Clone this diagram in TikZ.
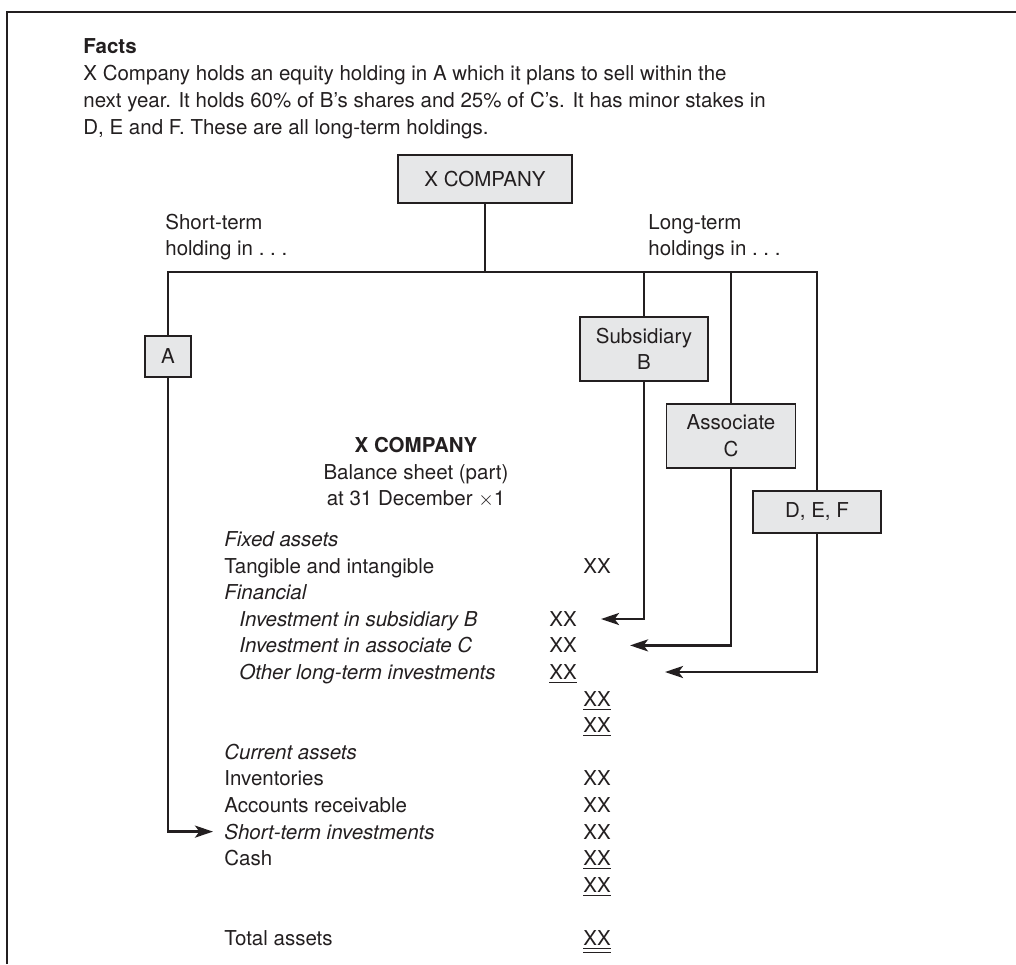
\documentclass[tikz,border=0pt]{standalone}
\usepackage{fontspec}
\setmainfont{TeX Gyre Heros}
\usetikzlibrary{arrows.meta}
\definecolor{linecol}{HTML}{231F20}
\definecolor{boxgray}{HTML}{E6E7E8}
\newcommand{\bodyfont}{\fontsize{10.25}{13.3}\selectfont}
\tikzset{
  box/.style={draw=linecol, fill=boxgray, line width=0.7pt, align=center, inner sep=0pt},
  link/.style={draw=linecol, line width=1.25pt},
  arr/.style={link, -{Stealth[length=9pt, width=6pt, inset=2.2pt]}},
  txt/.style={anchor=base west, inner sep=0pt},
  ctxt/.style={anchor=base, inner sep=0pt},
}
\begin{document}
\begin{tikzpicture}[x=0.5pt, y=-0.5pt, every node/.style={font=\bodyfont, text=linecol}]
\useasboundingbox (0,0) rectangle (1016,964);
\draw[link, line width=1.3pt] (7,964) -- (7,12) -- (1016,12);

\node[txt, font=\bodyfont\bfseries] (facts) at (83,53.5) {Facts};
\node[txt] (fact1) at (83,80.5) {X Company holds an equity holding in A which it plans to sell within the};
\node[txt] (fact2) at (83,107.5) {next year. It holds 60\% of B's shares and 25\% of C's. It has minor stakes in};
\node[txt] (fact3) at (83,134.5) {D, E and F. These are all long-term holdings.};

\node[box, minimum width=87pt, minimum height=24pt] (top) at (485,179) {X COMPANY};
\node[box, minimum width=23pt, minimum height=20.5pt] (A) at (168,356.5) {A};
\node[box, minimum width=64pt, minimum height=32pt] (B) at (644,349) {Subsidiary\\B};
\node[box, minimum width=64.5pt, minimum height=32pt] (C) at (731,436) {Associate\\C};
\node[box, minimum width=64pt, minimum height=21pt] (DEF) at (817,512) {D, E, F};

\node[txt] (short1) at (165,229.5) {Short-term};
\node[txt] (short2) at (165,255.5) {holding in .~.~.};
\node[txt] (long1) at (648,229.5) {Long-term};
\node[txt] (long2) at (648,255.5) {holdings in .~.~.};

\coordinate (busL) at (168,272);
\draw[link] (top.south) -- (top.south |- busL);
\draw[link] (A.north) -- (A.north |- busL) -- (DEF.north |- busL) -- (DEF.north);
\draw[link] (B.north) -- (B.north |- busL);
\draw[link] (C.north) -- (C.north |- busL);

\node[ctxt, font=\bodyfont\bfseries] (bshead) at (416,452.5) {X COMPANY};
\node[ctxt] (bstitle) at (416,479) {Balance sheet (part)};
\node[ctxt] (bsdate) at (416,505.5) {at 31 December $\times$1};

\node[txt] (fixed) at (224,546.5) {\itshape Fixed assets};
\node[txt] (tang) at (224,573.1) {Tangible and intangible};
\node[txt] (tangxx) at (583,573.1) {XX};
\node[txt] (fin) at (224,599.7) {\itshape Financial};
\node[txt] (invb) at (239,626.3) {\itshape Investment in subsidiary B};
\node[txt] (invbxx) at (549,626.3) {XX};
\node[txt] (invc) at (239,652.9) {\itshape Investment in associate C};
\node[txt] (invcxx) at (549,652.9) {XX};
\node[txt] (other) at (239,679.5) {\itshape Other long-term investments};
\node[txt] (otherxx) at (549,679.5) {\underline{XX}};
\node[txt] (finxx) at (583,706.1) {\underline{XX}};
\node[txt] (fixxx) at (583,732.7) {\underline{XX}};
\node[txt] (curr) at (224,759.3) {\itshape Current assets};
\node[txt] (inv) at (224,785.9) {Inventories};
\node[txt] (invxx) at (583,785.9) {XX};
\node[txt] (ar) at (224,812.5) {Accounts receivable};
\node[txt] (arxx) at (583,812.5) {XX};
\node[txt] (stinv) at (224,839.1) {\itshape Short-term investments};
\node[txt] (stinvxx) at (583,839.1) {XX};
\node[txt] (cash) at (224,865.7) {Cash};
\node[txt] (cashxx) at (583,865.7) {\underline{XX}};
\node[txt] (currxx) at (583,892.3) {\underline{XX}};
\node[txt] (total) at (224,945.5) {Total assets};
\node[txt] (totalxx) at (583,945.5) {\underline{\underline{XX}}};

\coordinate (tipA) at (213,831.6);
\coordinate (tipB) at (601,619);
\coordinate (tipC) at (630,645.4);
\coordinate (tipD) at (665,672);
\draw[arr] (A.south) |- (tipA);
\draw[arr] (B.south) |- (tipB);
\draw[arr] (C.south) |- (tipC);
\draw[arr] (DEF.south) |- (tipD);
\end{tikzpicture}
\end{document}
